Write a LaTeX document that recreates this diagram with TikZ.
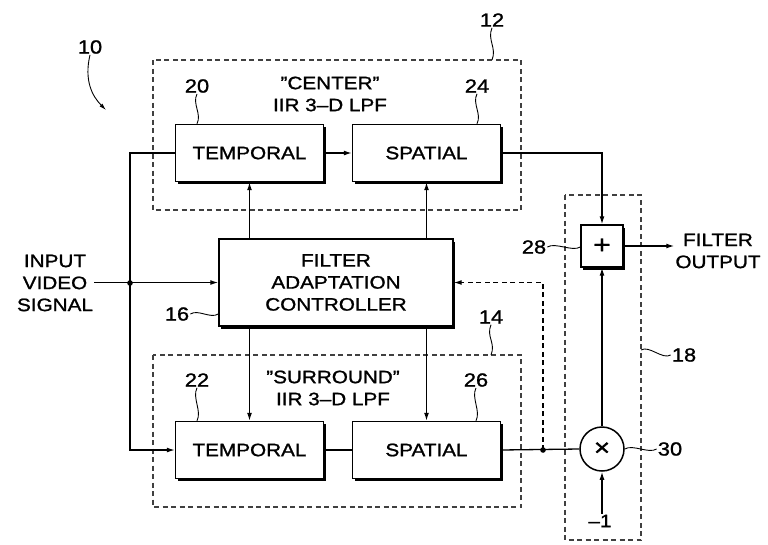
\documentclass[tikz,border=0pt]{standalone}
\usepackage{fontspec}
\setmainfont{Liberation Sans}[FakeStretch=1.15,FakeBold=1.2]
\usetikzlibrary{arrows.meta,positioning,shadows,calc}
\tikzset{
  block/.style={draw, line width=1.4pt, fill=white, minimum width=148pt, minimum height=57pt,
    general shadow={fill=black, shadow xshift=2pt, shadow yshift=-2.5pt}, font=\fontsize{18}{22}\selectfont},
  txt/.style={align=center, font=\fontsize{18}{22}\selectfont, inner sep=1pt},
  num/.style={font=\fontsize{19}{22}\selectfont, inner sep=1pt},
  wire/.style={line width=1.3pt},
  arr/.style={wire, -{Latex[length=8pt,width=5pt]}},
  group/.style={draw=black!75, line width=1.1pt, dash pattern=on 5pt off 3.5pt},
  fbk/.style={arr, dash pattern=on 5pt off 3.5pt},
  lead/.style={line width=0.9pt}
}
\begin{document}
\begin{tikzpicture}[x=1pt,y=-1pt]
  \useasboundingbox (0,0) rectangle (768,544);
  % filter groups
  \draw[group] (153,60) rectangle (521,210);
  \draw[group] (153,355) rectangle (521,507);
  \draw[group] (565,195) rectangle (641,540);
  \node[txt] (ctr) at (330,94) {"CENTER"\\IIR 3--D LPF};
  \node[txt] (sur) at (333,388) {"SURROUND"\\IIR 3--D LPF};

  % blocks
  \node[block] (t20) at (249.5,153) {TEMPORAL};
  \node[block] (s24) at (426.5,153) {SPATIAL};
  \node[block] (t22) at (249.5,450) {TEMPORAL};
  \node[block] (s26) at (426.5,450) {SPATIAL};
  \node[block, minimum width=234pt, minimum height=87pt, align=center] (fac) at (336,282.5)
    {FILTER\\ADAPTATION\\CONTROLLER};
  \node[block, minimum width=42pt, minimum height=42pt, inner sep=0pt,
    font=\fontsize{26}{26}\selectfont] (plus) at (602,246) {+};
  \node[draw, circle, line width=1.5pt, fill=white, minimum size=44pt, inner sep=0pt,
    font=\fontsize{24}{24}\selectfont] (mul) at (602,449) {×};

  % terminals
  \node[txt] (in) at (55,283) {INPUT\\VIDEO\\SIGNAL};
  \node[txt] (out) at (718,251) {FILTER\\OUTPUT};
  \node[txt] (m1) at (600,521) {--1};
  \coordinate (jin) at (130,283);
  \coordinate (jfb) at (543,450);

  % signal paths
  \draw[arr] (in.east |- fac.west) -- (fac.west);
  \fill (jin) circle (2.8);
  \draw[wire] (jin) |- (t20.west);
  \draw[arr] (jin) |- (t22.west);
  \draw[arr] (t20) -- (s24);
  \draw[wire] (t22) -- (s26);
  \draw[arr] (fac.north -| t20) -- (t20.south);
  \draw[arr] (fac.north -| s24) -- (s24.south);
  \draw[arr] (fac.south -| t22) -- (t22.north);
  \draw[arr] (fac.south -| s26) -- (s26.north);
  \draw[arr] (s24.east) -| (plus.north);
  \draw[arr] (plus.east) -- (out.west |- plus.east);
  \draw[wire] (s26.east) -- (mul.west);
  \fill (jfb) circle (2.8);
  \draw[fbk] (jfb) |- (fac.east);
  \draw[arr] (mul.north) -- (plus.south);
  \draw[arr] (m1.north -| mul) -- (mul.south);

  % reference numerals
  \node[num] (n10) at (90,47) {10};
  \draw[lead, -{Latex[length=7pt,width=4pt]}] (n10.south) .. controls (84,80) and (92,96) .. (106,110);
  \node[num] (n12) at (492,20) {12};
  \draw[lead] (n12.south) .. controls +(-5,12) and +(5,-12) .. (n12.south |- 0,60);
  \node[num] (n14) at (491,317) {14};
  \draw[lead] (n14.south) .. controls +(-5,12) and +(5,-12) .. (n14.south |- 0,355);
  \node[num] (n20) at (197,86) {20};
  \draw[lead] (n20.south) .. controls +(-5,10) and +(5,-10) .. (n20.south |- t20.north);
  \node[num] (n24) at (477,86) {24};
  \draw[lead] (n24.south) .. controls +(-5,10) and +(5,-10) .. (n24.south |- s24.north);
  \node[num] (n22) at (197,380) {22};
  \draw[lead] (n22.south) .. controls +(-5,10) and +(5,-10) .. (n22.south |- t22.north);
  \node[num] (n26) at (476,380) {26};
  \draw[lead] (n26.south) .. controls +(-5,10) and +(5,-10) .. (n26.south |- s26.north);
  \node[num] (n16) at (177,314) {16};
  \draw[lead] (n16.east) .. controls +(8,-5) and +(-8,5) .. (fac.west |- n16.east);
  \node[num] (n28) at (534,247) {28};
  \draw[lead] (n28.east) .. controls +(8,-5) and +(-8,5) .. (plus.west |- n28.east);
  \node[num] (n18) at (684,355) {18};
  \draw[lead] (641,350) .. controls +(8,-5) and +(-8,5) .. (n18.west);
  \node[num] (n30) at (670,449) {30};
  \draw[lead] (mul.east) .. controls +(8,-5) and +(-8,5) .. (n30.west);
\end{tikzpicture}
\end{document}
